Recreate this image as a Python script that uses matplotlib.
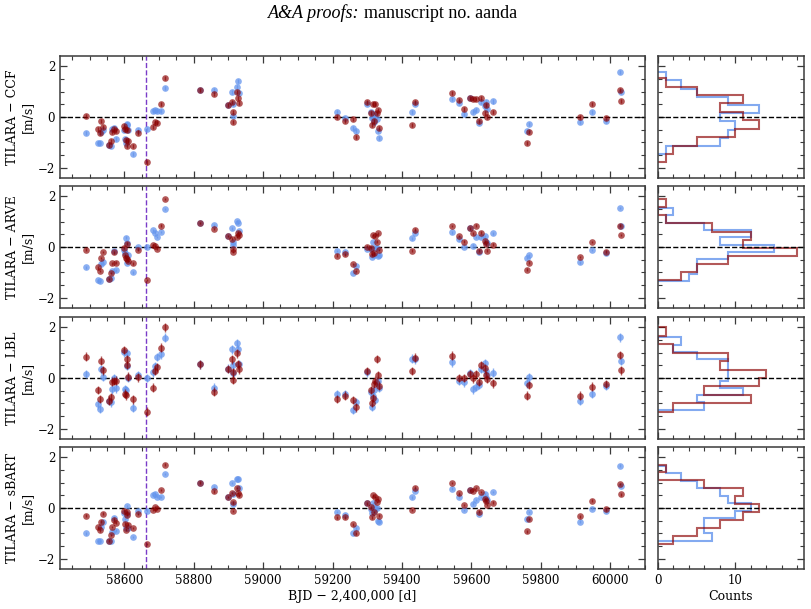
import matplotlib
matplotlib.use("Agg")
import matplotlib.pyplot as plt
from matplotlib.ticker import MultipleLocator

plt.rcParams['font.family'] = ['DejaVu Serif']

# ---------------- data ----------------
t_bjd = [58491, 58525, 58530, 58534, 58538, 58557, 58561, 58564, 58570, 58575,
         58599, 58602, 58604, 58607, 58609, 58612, 58624, 58641, 58667,
         58684, 58690, 58695, 58707, 58718, 58817, 58860, 58900,
         58911, 58912, 58913, 58926, 58928, 58931,
         59212, 59235, 59258, 59269, 59298, 59310, 59317, 59315, 59323, 59319,
         59327, 59330, 59334, 59430, 59438, 59545, 59565, 59580, 59597,
         59606, 59614, 59623, 59628, 59638, 59641, 59645, 59662,
         59760, 59765, 59912, 59948, 59989, 60028, 60031]

ccf_blue = [-0.64, -1.02, -1.02, -0.58, -0.50, -1.12, -1.13, -0.48, -0.42, -0.85,
            -0.52, -0.85, -1.03, -0.27, -0.31, -0.50, -1.46, -0.50, -0.46,
            0.25, 0.27, 0.25, 0.25, 1.15, 1.05, 1.05, 0.46, 1.00, 0.50, 0.04,
            1.19, 1.40, 0.95, 0.20, -0.05, -0.42, -0.55, 0.51, 0.20, 0.01,
            -0.05, 0.10, -0.20, -0.09, -0.56, -0.84, 0.20, 0.51, 0.69, 0.54,
            0.12, 0.73, 0.20, 0.26, -0.22, 0.58, 0.45, 0.60, 0.30, 0.61,
            -0.55, -0.29, -0.20, 0.20, -0.14, 1.76, 0.97]
ccf_red = [0.05, -0.47, -0.61, -0.16, -0.40, -1.11, -0.93, -0.58, -0.48, -0.55,
           -0.35, -0.47, -0.90, -1.13, -0.51, -0.94, -1.14, -0.61, -1.79,
           -0.38, -0.20, -0.22, 0.51, 1.53, 1.05, 0.89, 0.46, 0.60, 0.20, -0.21,
           1.00, 0.76, 0.55, 0.00, -0.14, -0.07, -0.77, 0.58, 0.17, 0.50,
           -0.31, 0.50, -0.16, 0.14, 0.26, -0.44, -0.30, 0.60, 0.94, 0.67,
           0.30, 0.75, 0.69, 0.72, -0.14, 0.73, 0.14, 0.46, 0.00, 0.20,
           -1.02, -0.58, 0.01, 0.50, -0.05, 1.06, 0.63]

arve_blue = [-0.80, -1.31, -1.35, -0.68, -0.58, -1.25, -1.22, -0.94, -0.16, -0.92,
             -0.13, -0.25, 0.37, 0.17, -0.61, -0.30, -1.00, 0.00, 0.00,
             0.67, 0.56, 0.40, 0.59, 1.49, 0.95, 0.85, 0.43, 0.73, 0.21, 0.08,
             1.03, 0.94, 0.63, -0.16, -0.18, -1.03, -0.75, -0.07, -0.09, 0.20,
             -0.39, -0.03, -0.33, -0.05, -0.35, -0.30, 0.34, 0.56, 0.58, 0.30,
             0.01, 0.73, 0.05, 0.39, -0.19, 0.40, 0.42, 0.20, 0.15, 0.54,
             -0.43, -0.31, -0.60, -0.12, -0.25, 1.54, 0.84]
arve_red = [-0.10, -0.80, -0.95, -0.44, -0.20, -1.25, -1.03, -0.64, -0.21, -0.61,
            -0.02, -0.33, -0.43, 0.13, -0.48, -0.55, -0.64, -0.10, -1.30,
            0.08, 0.04, -0.08, 0.84, 1.88, 0.95, 0.70, 0.43, 0.33, -0.07, -0.20,
            0.40, 0.56, 0.48, -0.34, -0.29, -0.67, -0.94, 0.01, -0.03, 0.47,
            -0.29, 0.43, -0.25, 0.21, 0.54, -0.12, -0.14, 0.68, 0.82, 0.43,
            0.21, 0.73, 0.54, 0.84, -0.14, 0.56, 0.22, 0.10, -0.14, 0.09,
            -0.89, -0.61, -0.39, 0.20, -0.18, 0.84, 0.48]

lbl_blue = [0.16, -1.03, -1.22, 0.34, 0.05, -0.89, -0.96, -0.45, -0.01, -0.41,
            1.01, -0.43, -0.47, 0.97, 0.47, 0.01, -1.17, 0.12, 0.00,
            0.22, 0.47, 0.82, 0.93, 1.59, 0.54, -0.38, 0.37, 1.13, 0.51, 0.21,
            1.37, 1.13, 0.54, -0.63, -0.63, -1.24, -0.95, 0.22, -0.54, -0.71,
            -1.13, -0.87, -0.47, -0.20, -0.10, -0.40, 0.76, 0.74, 0.62, -0.12,
            -0.17, 0.19, -0.45, -0.34, -0.26, 0.36, 0.58, 0.28, 0.10, 0.21,
            -0.21, 0.03, -0.89, -0.63, -0.30, 1.60, 0.67]
lbl_red = [0.84, -0.47, -0.82, 0.68, 0.30, -0.89, -0.76, -0.14, -0.12, -0.10,
           1.10, -0.61, -0.68, 0.75, 0.51, 0.05, -0.84, 0.03, -1.33,
           -0.38, 0.29, 0.42, 1.20, 1.99, 0.54, -0.54, 0.36, 0.74, 0.22, -0.07,
           0.97, 0.54, 0.34, -0.83, -0.70, -0.87, -1.16, 0.28, -0.47, -0.78,
           -0.98, -0.10, -0.24, 0.75, 0.12, -0.30, 0.28, 0.80, 0.88, 0.00,
           0.00, 0.16, -0.01, 0.16, -0.14, 0.51, 0.38, 0.12, -0.04, -0.21,
           -0.70, -0.28, -0.70, -0.34, -0.24, 0.91, 0.30]

sbart_blue = [-1.00, -1.29, -1.29, -0.75, -0.54, -1.28, -1.29, -0.95, -0.38, -0.89,
              -0.20, -0.43, -0.78, 0.07, -0.25, -0.80, -1.14, -0.13, -0.10,
              0.52, 0.56, 0.43, 0.43, 1.33, 1.00, 0.82, 0.43, 0.99, 0.55, 0.14,
              1.15, 1.16, 0.80, -0.16, -0.26, -1.00, -0.80, 0.18, -0.05, 0.18,
              -0.21, -0.01, -0.10, 0.00, -0.52, -0.54, 0.42, 0.68, 0.76, 0.44,
              -0.08, 0.69, 0.17, 0.31, -0.22, 0.44, 0.56, 0.40, 0.30, 0.63,
              -0.44, -0.16, -0.54, -0.03, -0.13, 1.67, 0.86]
sbart_red = [-0.30, -0.76, -0.88, -0.54, -0.22, -1.28, -1.07, -0.75, -0.46, -0.59,
             -0.10, -0.61, -0.85, -0.16, -0.26, -0.65, -0.78, -0.24, -1.42,
             -0.07, 0.04, -0.04, 0.71, 1.71, 1.00, 0.65, 0.43, 0.59, 0.22, -0.12,
             0.78, 0.59, 0.50, -0.37, -0.37, -0.64, -1.00, 0.18, 0.03, 0.50,
             -0.37, 0.44, -0.16, 0.24, 0.34, -0.30, -0.08, 0.80, 0.99, 0.58,
             0.12, 0.71, 0.67, 0.78, -0.14, 0.63, 0.34, 0.29, 0.12, 0.21,
             -0.92, -0.44, -0.33, 0.29, -0.05, 0.95, 0.54]

err_ccf = 0.08
err_arve = 0.05
err_lbl = 0.17
err_sbart = 0.05

panel_labels = ["TILARA − CCF\n[m/s]", "TILARA − ARVE\n[m/s]",
                "TILARA − LBL\n[m/s]", "TILARA − sBART\n[m/s]"]
t_event = 58663

panels = [(ccf_blue, ccf_red, err_ccf), (arve_blue, arve_red, err_arve),
          (lbl_blue, lbl_red, err_lbl), (sbart_blue, sbart_red, err_sbart)]

# ---------------- figure ----------------
W, H = 812, 609
fig = plt.figure(figsize=(W / 100, H / 100), dpi=100)

blue = '#6495ED'
red = '#8b0000'
spine_col = '#3a3a3a'

main_l, main_r = 60, 645
hist_l, hist_r = 658, 804
rows = [(56, 178), (186, 308), (317, 439), (447, 569)]


def style(ax):
    for s in ax.spines.values():
        s.set_color(spine_col)
        s.set_linewidth(1.1)
    ax.tick_params(which='both', direction='in', top=True, right=True,
                   color=spine_col, labelsize=8.5)
    ax.tick_params(which='major', length=5, width=0.9)
    ax.tick_params(which='minor', length=2.8, width=0.8)


for i, ((yb, yr, err), lab) in enumerate(zip(panels, panel_labels)):
    top, bot = rows[i]
    ax = fig.add_axes([main_l / W, 1 - bot / H, (main_r - main_l) / W, (bot - top) / H])
    axh = fig.add_axes([hist_l / W, 1 - bot / H, (hist_r - hist_l) / W, (bot - top) / H])

    ax.errorbar(t_bjd, yb, yerr=err, fmt='o', ms=4.8, color=blue, ecolor=blue,
                elinewidth=1.0, alpha=0.75, mew=0, zorder=3)
    ax.errorbar(t_bjd, yr, yerr=err, fmt='o', ms=4.8, color=red, ecolor=red,
                elinewidth=1.0, alpha=0.65, mew=0, zorder=4)
    ax.axhline(0, color='k', ls='--', lw=1.0, zorder=2)
    ax.axvline(t_event, color='#7a3cc8', ls='--', lw=1.0, zorder=2)
    ax.set_xlim(58415, 60100)
    ax.set_ylim(-2.4, 2.4)
    ax.xaxis.set_major_locator(MultipleLocator(200))
    ax.xaxis.set_minor_locator(MultipleLocator(50))
    ax.yaxis.set_major_locator(MultipleLocator(2))
    ax.yaxis.set_minor_locator(MultipleLocator(0.5))
    ax.set_ylabel(lab, fontsize=9, labelpad=3)
    style(ax)

    axh.hist(yb, bins=10, orientation='horizontal', histtype='step',
             color=blue, lw=1.5, alpha=0.8)
    axh.hist(yr, bins=10, orientation='horizontal', histtype='step',
             color=red, lw=1.5, alpha=0.65)
    axh.axhline(0, color='k', ls='--', lw=1.0)
    axh.set_xlim(0, 18.85)
    axh.set_ylim(-2.4, 2.4)
    axh.xaxis.set_major_locator(MultipleLocator(10))
    axh.xaxis.set_minor_locator(MultipleLocator(2))
    axh.yaxis.set_major_locator(MultipleLocator(2))
    axh.yaxis.set_minor_locator(MultipleLocator(0.5))
    axh.set_yticklabels([])
    style(axh)

    if i < 3:
        ax.set_xticklabels([])
        axh.set_xticklabels([])
    else:
        ax.set_xlabel("BJD − 2,400,000 [d]", fontsize=9, labelpad=2)
        axh.set_xlabel("Counts", fontsize=9, labelpad=2)

fig.text(359 / W, 1 - 13 / H, "A&A proofs:", ha='right', va='center',
         family='Liberation Serif', style='italic', fontsize=13)
fig.text(364 / W, 1 - 13 / H, "manuscript no. aanda", ha='left', va='center',
         family='Liberation Serif', fontsize=13)

fig.savefig("out.png", dpi=100)
